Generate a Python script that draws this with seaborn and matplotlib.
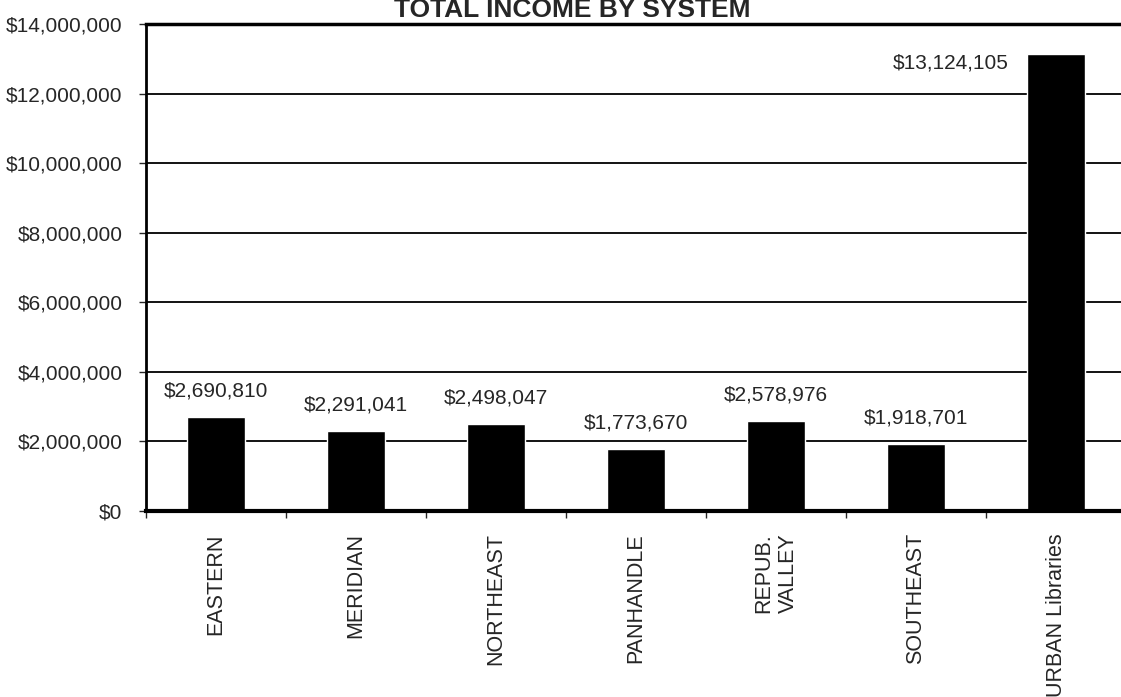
import numpy as np
import pandas as pd
import seaborn as sns
import matplotlib.pyplot as plt
from matplotlib.ticker import FuncFormatter, FixedLocator

# data
systems = ["EASTERN", "MERIDIAN", "NORTHEAST", "PANHANDLE", "REPUB.\nVALLEY", "SOUTHEAST", "URBAN Libraries"]
income = [2690810, 2291041, 2498047, 1773670, 2578976, 1918701, 13124105]
y_ticks = [0, 2000000, 4000000, 6000000, 8000000, 10000000, 12000000, 14000000]

df = pd.DataFrame({"system": systems, "income": income})

sns.set_style("white")
plt.rcParams['font.family'] = ['Liberation Sans', 'DejaVu Sans']

W, H = 1121, 697
fig = plt.figure(figsize=(W / 100, H / 100), dpi=100)
# axes runs a little past the right edge, as in the scan
ax = fig.add_axes([146 / W, 1 - 511 / H, 980 / W, (511 - 24) / H])

sns.barplot(data=df, x="system", y="income", color="black", width=0.42,
            saturation=1, ax=ax, zorder=3)

ax.set_ylim(0, 14000000)
ax.set_xlim(-0.5, 6.5)
ax.set_yticks(y_ticks)
ax.yaxis.set_major_formatter(FuncFormatter(lambda v, p: f"${v:,.0f}"))
ax.grid(axis="y", color="black", linewidth=1.3, zorder=0)
ax.tick_params(axis="y", labelsize=15, length=5, width=1, direction="out", left=True, pad=12)
ax.tick_params(axis="x", labelsize=15.5, length=0, rotation=90, pad=16)
ax.xaxis.set_minor_locator(FixedLocator(np.arange(-0.5, 6.6, 1)))
ax.tick_params(axis="x", which="minor", length=5, width=1, direction="out", bottom=True)
for lbl in ax.get_xticklabels():
    lbl.set_va("top")
    lbl.set_ha("center")
    lbl.set_multialignment("center")

ax.set_xlabel("")
ax.set_ylabel("")

for side in ["left", "bottom", "top"]:
    ax.spines[side].set_visible(True)
    ax.spines[side].set_color("black")
    ax.spines[side].set_zorder(4)
ax.spines["left"].set_linewidth(2.0)
ax.spines["bottom"].set_linewidth(3.0)
ax.spines["top"].set_linewidth(2.5)
ax.spines["right"].set_visible(False)

# value labels above bars, last one beside its bar
for i, v in enumerate(income):
    if i == len(income) - 1:
        ax.annotate(f"${v:,}", (i, v), xytext=(-34, -6), textcoords="offset points",
                    ha="right", va="center", fontsize=15)
    else:
        ax.annotate(f"${v:,}", (i, v), xytext=(0, 19), textcoords="offset points",
                    ha="center", va="center", fontsize=15)

fig.text(572 / W, 1 - 17 / H, "TOTAL INCOME BY SYSTEM", ha="center", va="baseline",
         fontsize=19, fontweight="bold")

fig.savefig("out.png", dpi=100)
